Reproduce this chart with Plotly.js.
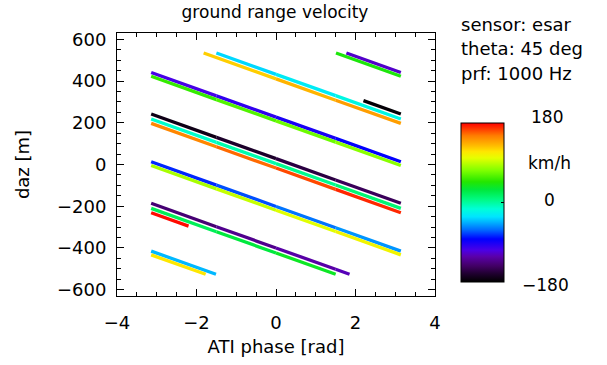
<!DOCTYPE html>
<html>
<head>
<meta charset="utf-8">
<script src="https://cdn.plot.ly/plotly-3.0.1.min.js"></script>
<style>html,body{margin:0;padding:0;background:#fff;}#chart{width:607px;height:365px;}</style>
</head>
<body>
<div id="chart"></div>
<script>
// ATI phase [rad] read along each wrapped segment
const segPhase = [
  [2.20, 3.14],
  [-3.14, -1.5, 0, 1.5, 3.14],
  [-3.14, -1.5, 0, 1.5, 1.85],
  [1.77, 3.14],
  [-3.14, -1.5, 0, 1.5, 3.14],
  [-3.14, -1.5, 0, 1.5, 3.14],
  [-3.14, -1.51],
  [-1.50, 0, 1.5, 3.14],
  [-3.14, -1.5, 0, 1.5, 3.14],
  [-3.14, -1.5, 0, 1.50],
  [1.51, 3.14],
  [-3.14, -1.5, 0, 1.5, 3.14],
  [-3.14, -1.5, 0, 1.5, 3.14],
  [-3.14, -1.77],
  [-1.82, 0, 1.5, 3.14],
  [-3.14, -1.5, 0, 1.5, 3.14],
  [-3.14, -2.20]
];
// azimuth displacement daz [m]
const segDaz = [
  [306, 242],
  [242, 130, 28, -74, -186],
  [-186, -298, -400, -502, -526],
  [534, 441],
  [441, 329, 227, 125, 13],
  [13, -99, -201, -303, -415],
  [-415, -526],
  [534, 432, 330, 218],
  [218, 106, 4, -98, -210],
  [-210, -322, -424, -526],
  [534, 423],
  [423, 311, 209, 107, -5],
  [-5, -117, -219, -321, -433],
  [-433, -526],
  [534, 410, 308, 197],
  [197, 85, -17, -119, -231],
  [-231, -295]
];
// ground range velocity [km/h] (colour)
const segVel = [
  [-180, -175.2],
  [-175.2, -166.9, -159.3, -151.7, -143.4],
  [-143.4, -135.1, -127.5, -119.9, -118.1],
  [-118.1, -111.2],
  [-111.2, -102.9, -95.3, -87.7, -79.4],
  [-79.4, -71.1, -63.5, -55.9, -47.6],
  [-47.6, -39.3],
  [-39.3, -31.7, -24.1, -15.8],
  [-15.8, -7.5, 0.1, 7.7, 16.0],
  [16.0, 24.3, 31.9, 39.5],
  [39.5, 47.8],
  [47.8, 56.1, 63.7, 71.3, 79.6],
  [79.6, 87.9, 95.5, 103.1, 111.4],
  [111.4, 118.3],
  [118.3, 127.5, 135.1, 143.4],
  [143.4, 151.7, 159.3, 166.9, 175.2],
  [175.2, 180]
];
const velRange = [-180, 180];
const cbTickLabels = ['180', 'km/h', '0', '\u2212180'];
const infoLines = ['sensor: esar', 'theta: 45 deg', 'prf: 1000 Hz'];

const cscale = [
  [0.00, [0, 0, 0]],
  [0.05, [30, 0, 45]],
  [0.10, [65, 0, 100]],
  [0.16, [90, 0, 170]],
  [0.20, [75, 0, 230]],
  [0.27, [0, 0, 255]],
  [0.33, [0, 110, 255]],
  [0.38, [0, 185, 255]],
  [0.41, [0, 228, 255]],
  [0.46, [0, 255, 215]],
  [0.52, [0, 250, 130]],
  [0.58, [0, 232, 60]],
  [0.63, [35, 230, 0]],
  [0.70, [125, 255, 0]],
  [0.78, [230, 255, 0]],
  [0.82, [255, 230, 0]],
  [0.86, [255, 185, 0]],
  [0.92, [255, 125, 0]],
  [1.00, [255, 0, 0]]
];
function rgb(c){return 'rgb('+c.map(Math.round).join(',')+')';}
function colorAt(v){
  let t = (v - velRange[0])/(velRange[1]-velRange[0]);
  t = Math.max(0, Math.min(1, t));
  for (let i=0;i<cscale.length-1;i++){
    const a=cscale[i], b=cscale[i+1];
    if (t>=a[0] && t<=b[0]){
      const f=(t-a[0])/(b[0]-a[0]);
      return rgb(a[1].map((c,k)=>c+(b[1][k]-c)*f));
    }
  }
  return rgb(cscale[cscale.length-1][1]);
}

const traces = [];
for (let s=0;s<segPhase.length;s++){
  const p=segPhase[s], d=segDaz[s], v=segVel[s];
  for (let i=0;i<p.length-1;i++){
    traces.push({
      type:'scatter', mode:'lines',
      x:[p[i],p[i+1]], y:[d[i],d[i+1]],
      line:{color:colorAt((v[i]+v[i+1])/2), width:3.3},
      hoverinfo:'skip', showlegend:false
    });
  }
}
// colour bar carrier
traces.push({
  type:'scatter', mode:'markers', x:[null], y:[null], showlegend:false, hoverinfo:'skip',
  marker:{
    color:[velRange[0]], cmin:velRange[0], cmax:velRange[1],
    colorscale: cscale.map(c=>[c[0], rgb(c[1])]),
    showscale:true,
    colorbar:{
      thickness:43, thicknessmode:'pixels', len:159, lenmode:'pixels',
      x:(461-117)/318, xanchor:'left', y:(296-202.5)/263, yanchor:'middle',
      xpad:0, ypad:0, outlinewidth:1, outlinecolor:'#000', borderwidth:0,
      tickvals:[0], ticks:'inside', ticklen:3, tickcolor:'#000', showticklabels:false
    }
  }
});

const F = 'DejaVu Sans, sans-serif';
const annotations = [];
const cbY = [117, 163, 200, 285];
const cbX = [547, 549, 549, 545];
cbTickLabels.forEach((t,i)=>annotations.push({
  text:t, xref:'paper', yref:'paper', x:(cbX[i]-117)/318, y:(296-cbY[i])/263,
  xanchor:'center', yanchor:'middle', showarrow:false, font:{family:F, size:17, color:'#000'}
}));
const infoY=[25, 49, 73];
infoLines.forEach((t,i)=>annotations.push({
  text:t, xref:'paper', yref:'paper', x:(459-117)/318, y:(296-infoY[i])/263,
  xanchor:'left', yanchor:'middle', showarrow:false, font:{family:F, size:18, color:'#000'}
}));

const layout = {
  width:607, height:365,
  margin:{l:117, r:172, t:33, b:69, pad:0},
  paper_bgcolor:'#fff', plot_bgcolor:'#fff',
  font:{family:F, size:18, color:'#000'},
  title:{text:'ground range velocity', x:275/607, xanchor:'center', y:1-12/365, yanchor:'middle',
         font:{family:F, size:17, color:'#000'}},
  xaxis:{
    range:[-4,4], dtick:2, tick0:0, ticks:'inside', ticklen:7, tickwidth:1, tickcolor:'#000',
    showline:true, linecolor:'#000', linewidth:1, mirror:'ticks', showgrid:false, zeroline:false,
    minor:{dtick:0.5, ticks:'inside', ticklen:4, tickcolor:'#000', showgrid:false},
    ticklabelstandoff:10, tickfont:{family:F, size:18},
    title:{text:'ATI phase [rad]', standoff:8, font:{family:F, size:18}}
  },
  yaxis:{
    range:[-630,630], dtick:200, tick0:0, ticks:'inside', ticklen:7, tickwidth:1, tickcolor:'#000',
    showline:true, linecolor:'#000', linewidth:1, mirror:'ticks', showgrid:false, zeroline:false,
    minor:{dtick:50, ticks:'inside', ticklen:4, tickcolor:'#000', showgrid:false},
    ticklabelstandoff:6, tickfont:{family:F, size:18},
    title:{text:'daz [m]', standoff:22, font:{family:F, size:18}}
  },
  annotations: annotations,
  showlegend:false
};
Plotly.newPlot('chart', traces, layout, {displayModeBar:false, staticPlot:true});
</script>
</body>
</html>
